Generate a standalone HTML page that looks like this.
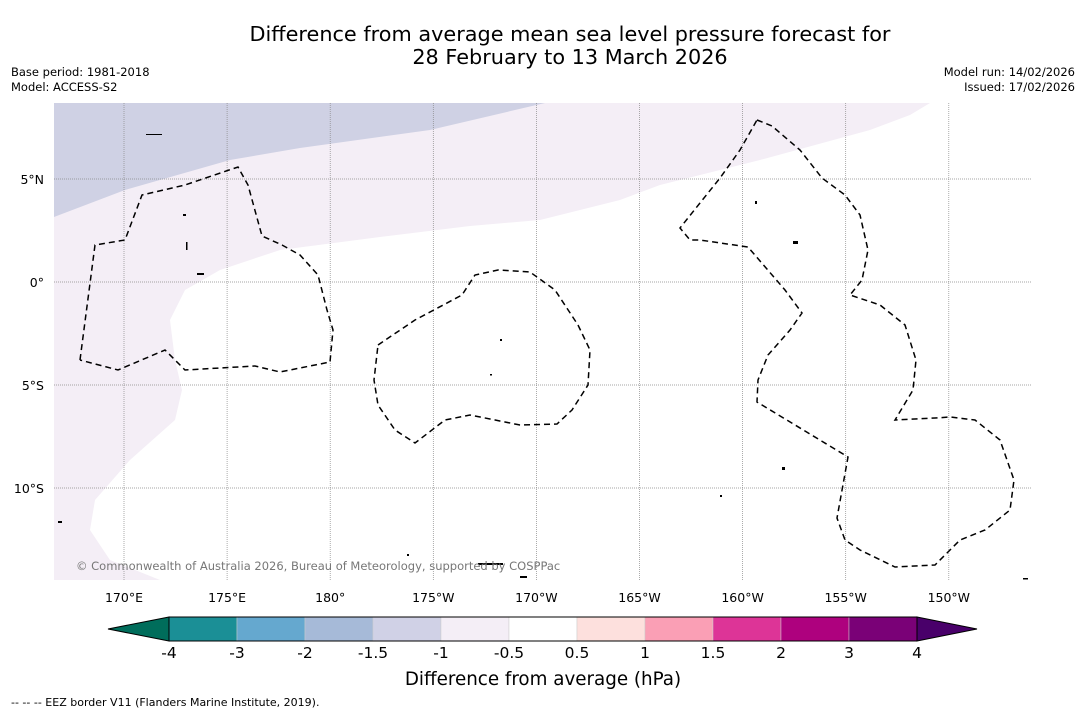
<!DOCTYPE html>
<html><head><meta charset="utf-8"><style>
body{margin:0;background:#fff;width:1085px;height:713px;overflow:hidden;font-family:"DejaVu Sans","Liberation Sans",sans-serif;}
svg{display:block}
</style></head><body>
<svg id="c" width="1085" height="713" xmlns="http://www.w3.org/2000/svg" font-family="DejaVu Sans, Liberation Sans, sans-serif">
<text x="570" y="41" font-size="20.8" text-anchor="middle">Difference from average mean sea level pressure forecast for</text>
<text x="570" y="64" font-size="20.8" text-anchor="middle">28 February to 13 March 2026</text>
<text x="11" y="76" font-size="11.5">Base period: 1981-2018</text>
<text x="11" y="91" font-size="11.5">Model: ACCESS-S2</text>
<text x="1075" y="76" font-size="11.5" text-anchor="end">Model run: 14/02/2026</text>
<text x="1075" y="91" font-size="11.5" text-anchor="end">Issued: 17/02/2026</text>
<g>
<clipPath id="mc"><rect x="54" y="103" width="977" height="477"/></clipPath>
<g clip-path="url(#mc)">
<path fill="#f4eef6" d="M54,103 L930,103 L910,115 L870,130 L760,160 L660,185 L620,200 L540,220 L470,226 L380,237 L280,250 L220,270 L185,290 L170,320 L175,360 L182,390 L175,420 L130,460 L95,500 L90,530 L110,560 L160,580 L54,580Z"/>
<path fill="#cfd1e4" d="M54,103 L545,103 L430,130 L300,148 L230,160 L125,190 L54,217Z"/>
<g id="grid" stroke="#888" stroke-width="0.7" stroke-dasharray="1,1"></g>
<g fill="none" stroke="#000" stroke-width="1.5" stroke-dasharray="6,4">
<path d="M80,360 L95,245 L125,240 L142,195 L185,185 L238,167 L248,185 L262,236 L282,245 L300,255 L318,275 L327,310 L333,330 L330,362 L280,372 L255,366 L185,370 L165,350 L118,370 L80,360"/>
<path d="M378,345 L415,320 L462,295 L475,275 L498,270 L530,272 L555,290 L578,325 L590,350 L588,385 L572,410 L557,424 L520,425 L470,415 L445,420 L415,443 L395,430 L378,405 L374,380 Z"/>
<path d="M757,120 L772,126 L800,150 L822,178 L845,195 L860,215 L868,250 L862,280 L850,295 L880,305 L905,325 L916,360 L913,390 L895,420 L935,418 L950,417 L975,420 L1000,440 L1014,480 L1010,510 L985,530 L960,540 L935,565 L895,567 L860,550 L845,540 L837,518 L848,457 L757,402 L758,380 L768,355 L790,330 L802,313 L785,290 L748,247 L700,240 L690,240 L680,228 L720,178 L740,150 L757,120"/>
</g>
<g fill="#000">
<rect x="146" y="134" width="16" height="1"/><rect x="183" y="214" width="3" height="2"/><rect x="186" y="242" width="1.5" height="8"/><rect x="197" y="273" width="7" height="2"/><rect x="500" y="339" width="2" height="2"/><rect x="490" y="374" width="2" height="1.5"/><rect x="478" y="563" width="25" height="2"/><rect x="520" y="576" width="7" height="2"/><rect x="793" y="241" width="5" height="3"/><rect x="755" y="201" width="2" height="3"/><rect x="782" y="467" width="3" height="3"/><rect x="58" y="521" width="4" height="2"/><rect x="720" y="495" width="2" height="2"/><rect x="1023" y="578" width="5" height="1.5"/><rect x="407" y="554" width="2" height="2"/>
</g>
</g>
<text x="76" y="570" font-size="11.5" fill="#777">© Commonwealth of Australia 2026, Bureau of Meteorology, supported by COSPPac</text>
</g>
<g id="axes"></g>
<g id="cbar"></g>
<text x="543" y="685" font-size="18.3" text-anchor="middle">Difference from average (hPa)</text>
<text x="11" y="706" font-size="11">--  --  -- EEZ border V11 (Flanders Marine Institute, 2019).</text>
</svg>
<script>
const lonLabels=["170°E","175°E","180°","175°W","170°W","165°W","160°W","155°W","150°W"];
const lonValues=[170,175,180,185,190,195,200,205,210];
const latLabels=["5°N","0°","5°S","10°S"];
const latValues=[5,0,-5,-10];
const cbarTicks=["-4","-3","-2","-1.5","-1","-0.5","0.5","1","1.5","2","3","4"];
const cbarColors=["#1b8f96","#65a8cf","#a6bad8","#d0d1e6","#f4eef6","#ffffff","#fde0dd","#fa9fb5","#dd3497","#ae017e","#7a0177"];
const NS="http://www.w3.org/2000/svg";
const xs=l=>124+(l-170)*20.62, ys=a=>282-a*20.6;
const grid=document.getElementById('grid'),axes=document.getElementById('axes');
function mk(t,a,p){const e=document.createElementNS(NS,t);for(const k in a)e.setAttribute(k,a[k]);p.appendChild(e);return e;}
lonValues.forEach((v,i)=>{
 const l=mk('line',{x1:xs(v),x2:xs(v),y1:103,y2:580},grid);
 
 
 const t=mk('text',{x:xs(v),y:602,'font-size':12.5,'text-anchor':'middle'},axes);t.textContent=lonLabels[i];
 
 
});
latValues.forEach((v,i)=>{
 const l=mk('line',{x1:54,x2:1031,y1:ys(v),y2:ys(v)},grid);
 
 
 const t=mk('text',{x:44,y:ys(v)+5,'font-size':12.5,'text-anchor':'end'},axes);t.textContent=latLabels[i];
 
 
});
const cb=document.getElementById('cbar');const x0=169,w=68,y0=617,h=24;
const lt=mk('polygon',{points:`108,${y0+h/2} ${x0},${y0} ${x0},${y0+h}`,fill:'#006d5b',stroke:'#000','stroke-width':1},cb);


cbarColors.forEach((c,i)=>{const r=mk('rect',{x:x0+i*w,y:y0,width:w,height:h,fill:c,stroke:'#ccc','stroke-width':0.5},cb);
 
 });
const xe=x0+cbarColors.length*w;
const rt=mk('polygon',{points:`${xe},${y0} 977,${y0+h/2} ${xe},${y0+h}`,fill:'#49006a',stroke:'#000','stroke-width':1},cb);


mk('rect',{x:x0,y:y0,width:xe-x0,height:h,fill:'none',stroke:'#000','stroke-width':1},cb);
cbarTicks.forEach((s,i)=>{const t=mk('text',{x:x0+i*w,y:658,'font-size':15.5,'text-anchor':'middle'},cb);t.textContent=s;
 
 });
</script>
</body></html>
